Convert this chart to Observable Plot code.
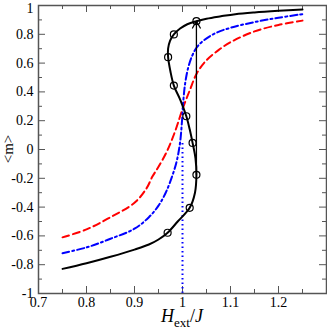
<!DOCTYPE html>
<html><head><meta charset="utf-8">
<script src="https://cdn.jsdelivr.net/npm/d3@7"></script>
<script src="https://cdn.jsdelivr.net/npm/@observablehq/plot@0.6"></script>
<style>
body{margin:0;background:#fff}
svg text, svg tspan{font-family:"Times New Roman","Liberation Serif","DejaVu Serif",serif !important;}
</style>
</head><body><div id="chart"></div>
<script>
const xTickLabels = [0.7, 0.8, 0.9, 1, 1.1, 1.2];
const xMajorTicks = [0.7, 0.8, 0.9, 1, 1.1, 1.2, 1.3];
const xMinorTicks = [0.75, 0.85, 0.95, 1.05, 1.15, 1.25];
const yMajorTicks = [-1, -0.8, -0.6, -0.4, -0.2, 0, 0.2, 0.4, 0.6, 0.8, 1];
const yMinorTicks = [-0.9, -0.7, -0.5, -0.3, -0.1, 0.1, 0.3, 0.5, 0.7, 0.9];

// red dashed curve
const redH = [0.75, 0.80, 0.85, 0.90, 0.925, 0.937, 0.95, 0.968, 0.985, 1.0, 1.015, 1.03, 1.05, 1.075, 1.1, 1.15, 1.2, 1.25];
const redM = [-0.61, -0.555, -0.47, -0.37, -0.27, -0.19, -0.12, -0.01, 0.13, 0.28, 0.41, 0.53, 0.62, 0.69, 0.745, 0.82, 0.865, 0.895];

// blue dash-dot curve
const blueH = [0.75, 0.80, 0.85, 0.90, 0.93, 0.95, 0.965, 0.978, 0.988, 0.995, 0.999, 1.002, 1.006, 1.012, 1.02, 1.03, 1.045, 1.07, 1.1, 1.15, 1.2, 1.25];
const blueM = [-0.72, -0.68, -0.62, -0.55, -0.47, -0.39, -0.30, -0.19, -0.08, 0.05, 0.2, 0.35, 0.47, 0.57, 0.65, 0.71, 0.76, 0.81, 0.845, 0.885, 0.915, 0.94];

// black solid S-curve (in path order)
const blackH = [0.75, 0.80, 0.85, 0.90, 0.93, 0.95, 0.969, 0.99, 1.015, 1.026, 1.029, 1.027, 1.021, 1.015, 1.008, 0.996, 0.982, 0.975, 0.970, 0.970, 0.974, 0.982, 0.995, 1.01, 1.029, 1.05, 1.08, 1.11, 1.15, 1.2, 1.25];
const blackM = [-0.829, -0.79, -0.745, -0.695, -0.66, -0.625, -0.578, -0.50, -0.405, -0.30, -0.176, -0.06, 0.046, 0.14, 0.231, 0.34, 0.444, 0.54, 0.641, 0.70, 0.755, 0.799, 0.84, 0.87, 0.891, 0.908, 0.925, 0.94, 0.952, 0.963, 0.972];

// circle markers on black curve
const markH = [0.969, 1.015, 1.029, 1.021, 1.008, 0.982, 0.970, 0.982, 1.029];
const markM = [-0.578, -0.405, -0.176, 0.046, 0.231, 0.444, 0.641, 0.799, 0.891];

// jump arrow
const jumpH = [1.029];
const jumpFrom = [-0.176];
const jumpTo = [0.891];

// blue dotted vertical line
const dotH = [1.0];
const dotFrom = [-1];
const dotTo = [0.05];

const W = 327, H = 332, mL = 38, mR = 1, mT = 5, mB = 39;
const fw = W - mL - mR, fh = H - mT - mB;
const axisColor = "#555";

const toPts = (xs, ys) => xs.map((x, i) => ({x, y: ys[i]}));
const red = toPts(redH, redM), blue = toPts(blueH, blueM), black = toPts(blackH, blackM), marks = toPts(markH, markM);
const jump = jumpH.map((x, i) => ({x, y1: jumpFrom[i], y2: jumpTo[i]}));
const dotted = dotH.map((x, i) => ({x, y1: dotFrom[i], y2: dotTo[i]}));
const yMax = d3.max(yMajorTicks);

const plot = Plot.plot({
  width: W, height: H,
  marginLeft: mL, marginRight: mR, marginTop: mT, marginBottom: mB,
  style: {fontFamily: "'Times New Roman', 'Liberation Serif', serif", fontSize: "13px", background: "#fff", overflow: "visible"},
  x: {domain: [0.7, 1.3]},
  y: {domain: [-1, 1]},
  marks: [
    Plot.axisX(xTickLabels, {anchor: "bottom", tickSize: 0, tickPadding: 4, tickFormat: d => String(d), label: null, fill: "#000", fontSize: 14}),
    Plot.axisY(yMajorTicks.filter(d => d !== yMax), {anchor: "left", tickSize: 0, tickPadding: 5, tickFormat: d => String(d), label: null, fill: "#000", fontSize: 14}),
    Plot.axisY([yMax], {anchor: "left", tickSize: 0, tickPadding: 5, tickFormat: d => String(d), label: null, fill: "#000", fontSize: 14, dy: 3}),
    Plot.tickX(xMajorTicks, {x: d => d, insetTop: fh - 7, stroke: axisColor}),
    Plot.tickX(xMinorTicks, {x: d => d, insetTop: fh - 4, stroke: axisColor}),
    Plot.tickX(xMajorTicks, {x: d => d, insetBottom: fh - 7, stroke: axisColor}),
    Plot.tickX(xMinorTicks, {x: d => d, insetBottom: fh - 4, stroke: axisColor}),
    Plot.tickY(yMajorTicks, {y: d => d, insetRight: fw - 7, stroke: axisColor}),
    Plot.tickY(yMinorTicks, {y: d => d, insetRight: fw - 4, stroke: axisColor}),
    Plot.tickY(yMajorTicks, {y: d => d, insetLeft: fw - 7, stroke: axisColor}),
    Plot.tickY(yMinorTicks, {y: d => d, insetLeft: fw - 4, stroke: axisColor}),
    Plot.ruleX(dotted, {x: "x", y1: "y1", y2: "y2", stroke: "#0000ff", strokeWidth: 2, strokeDasharray: "1.5,3"}),
    Plot.line(red, {x: "x", y: "y", stroke: "#ff0000", strokeWidth: 2, strokeDasharray: "7,4", curve: "catmull-rom"}),
    Plot.line(blue, {x: "x", y: "y", stroke: "#0000ff", strokeWidth: 2, strokeDasharray: "7,3,2,3", curve: "catmull-rom"}),
    Plot.line(black, {x: "x", y: "y", stroke: "#000", strokeWidth: 2, curve: "catmull-rom"}),
    Plot.arrow(jump, {x1: "x", x2: "x", y1: "y1", y2: "y2", stroke: "#000", strokeWidth: 1.3, headLength: 9}),
    Plot.dot(marks, {x: "x", y: "y", r: 3.5, stroke: "#000", strokeWidth: 1.2, fill: "none"}),
    Plot.frame({stroke: axisColor, strokeWidth: 1.5})
  ]
});

const svg = d3.select(plot);
const xl = svg.append("text")
  .attr("x", mL + fw * (1.0 - 0.7) / 0.6)
  .attr("y", 322)
  .attr("text-anchor", "middle")
  .attr("font-size", 18)
  .attr("fill", "#000");
xl.append("tspan").attr("font-style", "italic").text("H");
xl.append("tspan").attr("font-size", 13).attr("dy", 5).text("ext");
xl.append("tspan").attr("dy", -5).text("/");
xl.append("tspan").attr("font-style", "italic").text("J");

svg.append("text")
  .attr("transform", `translate(10,${mT + fh / 2}) rotate(-90)`)
  .attr("text-anchor", "middle")
  .attr("dominant-baseline", "middle")
  .attr("font-size", 15)
  .attr("fill", "#000")
  .text("<m>");

document.getElementById("chart").appendChild(plot);
</script>
</body></html>
